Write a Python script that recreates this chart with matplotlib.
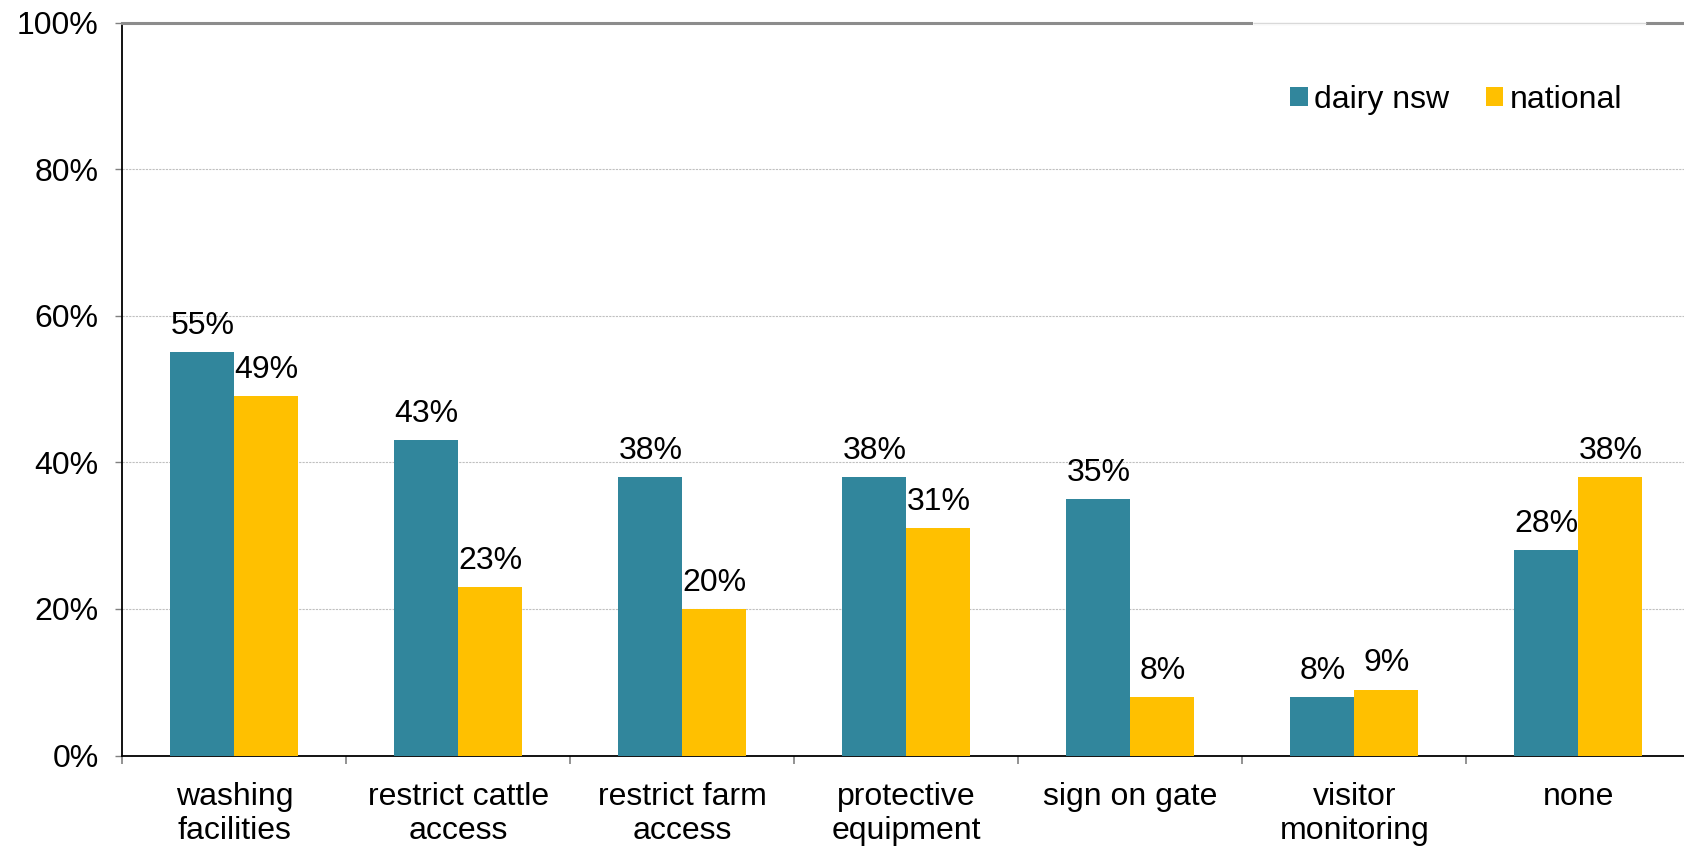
import matplotlib.pyplot as plt
import numpy as np

plt.rcParams['font.family'] = ['Liberation Sans', 'DejaVu Sans']

# Chart data
categories = ['washing\nfacilities', 'restrict cattle\naccess', 'restrict farm\naccess',
              'protective\nequipment', 'sign on gate', 'visitor\nmonitoring', 'none']
dairy_nsw = [55, 43, 38, 38, 35, 8, 28]
national = [49, 23, 20, 31, 8, 9, 38]
series_names = ['dairy nsw', 'national']
colors = ['#31869C', '#FFC000']

W, H = 1684, 851
fig = plt.figure(figsize=(W / 100, H / 100), dpi=100)
left, right = 122.4 / W, 1690.4 / W
top, bottom = 1 - 22.7 / H, 1 - 755.5 / H
ax = fig.add_axes([left, bottom, right - left, top - bottom])

fs = 23
x = np.arange(len(categories))
bw = 0.2857

for vals, name, col, off in zip([dairy_nsw, national], series_names, colors, [-bw / 2, bw / 2]):
    bars = ax.bar(x + off, vals, width=bw, color=col, label=name, zorder=3)
    for b, v in zip(bars, vals):
        ax.annotate(f'{v}%', (b.get_x() + b.get_width() / 2, v),
                    xytext=(0, 13), textcoords='offset points',
                    ha='center', va='baseline', fontsize=fs, zorder=4)

ax.set_xlim(-0.5, len(categories) - 0.5)
ax.set_ylim(0, 100)

# y axis
ax.set_yticks(np.arange(0, 101, 20))
ax.set_yticklabels([f'{v}%' for v in range(0, 101, 20)], fontsize=fs)
ax.tick_params(axis='y', length=5, width=1, color='#808080', pad=12)
ax.yaxis.grid(True, color='#c0c0c0', linestyle=(0, (2, 1)), linewidth=0.8, zorder=0)

# x axis: ticks between groups, labels at centers
ax.set_xticks(np.arange(-0.5, len(categories), 1.0))
ax.set_xticklabels([])
ax.tick_params(axis='x', which='major', length=6, width=1.2, color='#808080')
ax.set_xticks(x, minor=True)
ax.set_xticklabels(categories, minor=True, fontsize=fs, linespacing=1.2)
ax.tick_params(axis='x', which='minor', length=0, pad=19)

for s in ['left', 'bottom']:
    ax.spines[s].set_color('black')
    ax.spines[s].set_linewidth(1.3)
ax.spines['right'].set_visible(False)
ax.spines['top'].set_color('#8c8c8c')
ax.spines['top'].set_linewidth(2.2)

# lighter stretch of the top border behind the legend area
ax.plot([0.721, 0.9717], [1, 1], transform=ax.transAxes, color='white',
        linewidth=3, clip_on=False, zorder=5, solid_capstyle='butt')
ax.plot([0.721, 0.9717], [1, 1], transform=ax.transAxes, color='#d9d9d9',
        linewidth=1, clip_on=False, zorder=6, solid_capstyle='butt')

ax.legend(loc='center left', bbox_to_anchor=(1290 / W, 1 - 100 / H),
          bbox_transform=fig.transFigure, ncol=2, frameon=False, fontsize=fs,
          handlelength=0.55, handleheight=0.55, handletextpad=0.2,
          columnspacing=1.15, borderpad=0, borderaxespad=0)

fig.savefig('out.png', dpi=100)
